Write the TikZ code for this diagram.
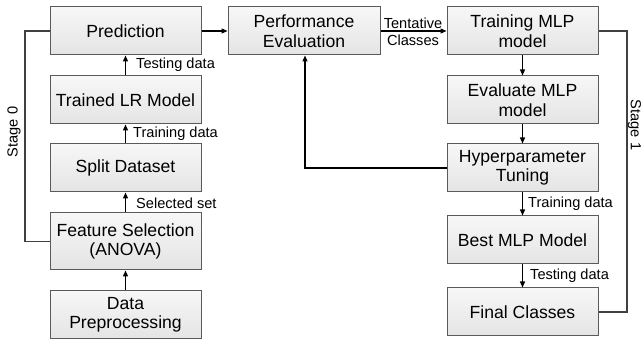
\documentclass[tikz,border=0pt]{standalone}
\usepackage{fontspec}
\setmainfont{Liberation Sans}
\usetikzlibrary{arrows.meta,calc}
\definecolor{boxline}{HTML}{5A5A5A}
\definecolor{boxtop}{HTML}{F7F7F7}
\definecolor{boxbot}{HTML}{E4E4E4}
\tikzset{
  box/.style={draw=boxline, line width=1pt, top color=boxtop, bottom color=boxbot,
    minimum width=151pt, minimum height=48pt, inner sep=0pt, align=center,
    font=\fontsize{17.6}{19.5}\selectfont},
  arr/.style={-{Triangle[length=6pt,width=5pt]}, line width=1.2pt, black},
  loopline/.style={line width=1.2pt, draw=black!75},
  lbl/.style={font=\fontsize{14.6}{16.5}\selectfont, inner sep=0pt, anchor=west}
}
\begin{document}
\begin{tikzpicture}[x=1pt,y=-1pt]
\useasboundingbox (0,0) rectangle (641,339);
% left column
\node[box] (pred) at (125.5,31) {Prediction};
\node[box] (lr) at (125.5,100) {Trained LR Model};
\node[box] (split) at (125.5,168) {Split Dataset};
\node[box, minimum height=57pt] (fs) at (125.5,241.5) {Feature Selection\\(ANOVA)};
\node[box] (dp) at (125.5,315) {Data\\Preprocessing};
% middle
\node[box, minimum width=152pt] (pe) at (304,31) {Performance\\Evaluation};
% right column
\node[box] (tr) at (522.5,31) {Training MLP\\model};
\node[box] (ev) at (522.5,100) {Evaluate MLP\\model};
\node[box] (hp) at (522.5,168) {Hyperparameter\\Tuning};
\node[box] (best) at (522.5,240) {Best MLP Model};
\node[box] (fc) at (522.5,312) {Final Classes};
% arrows left
\draw[arr] (dp.north) -- (fs.south);
\draw[arr] (fs.north) -- (split.south);
\draw[arr] (split.north) -- (lr.south);
\draw[arr] (lr.north) -- (pred.south);
\node[lbl] (l1) at (136,65) {Testing data};
\node[lbl] (l2) at (133,133.5) {Training data};
\node[lbl] (l3) at (136,203) {Selected set};
% stage 0 loop
\coordinate (s0a) at (25,31);
\coordinate (s0b) at (25,241.5);
\draw[loopline] (pred.west) -- (s0a) -- (s0b) -- (fs.west);
\node[rotate=90, font=\fontsize{14.6}{16}\selectfont, inner sep=0pt] (st0) at (14,132) {Stage 0};
% top row
\draw[arr] (pred.east) -- (pe.west);
\draw[arr] (pe.east) -- (tr.west);
\node[font=\fontsize{14.6}{16.5}\selectfont, align=center, inner sep=0pt] (tc) at (413,32) {Tentative\\Classes};
% right column arrows
\draw[arr] (tr.south) -- (ev.north);
\draw[arr] (ev.south) -- (hp.north);
\draw[arr] (hp.south) -- (best.north);
\draw[arr] (best.south) -- (fc.north);
\node[lbl] (l4) at (528,204) {Training data};
\node[lbl] (l5) at (530,276) {Testing data};
% feedback
\coordinate (fbk) at (305,168);
\draw[arr] (hp.west) -- (fbk) -- (pe.south -| fbk);
% stage 1 loop
\coordinate (s1a) at (627,31);
\coordinate (s1b) at (627,312);
\draw[loopline] (tr.east) -- (s1a) -- (s1b) -- (fc.east);
\node[rotate=-90, font=\fontsize{14.6}{16}\selectfont, inner sep=0pt] (st1) at (634.5,125) {Stage 1};
\end{tikzpicture}
\end{document}
